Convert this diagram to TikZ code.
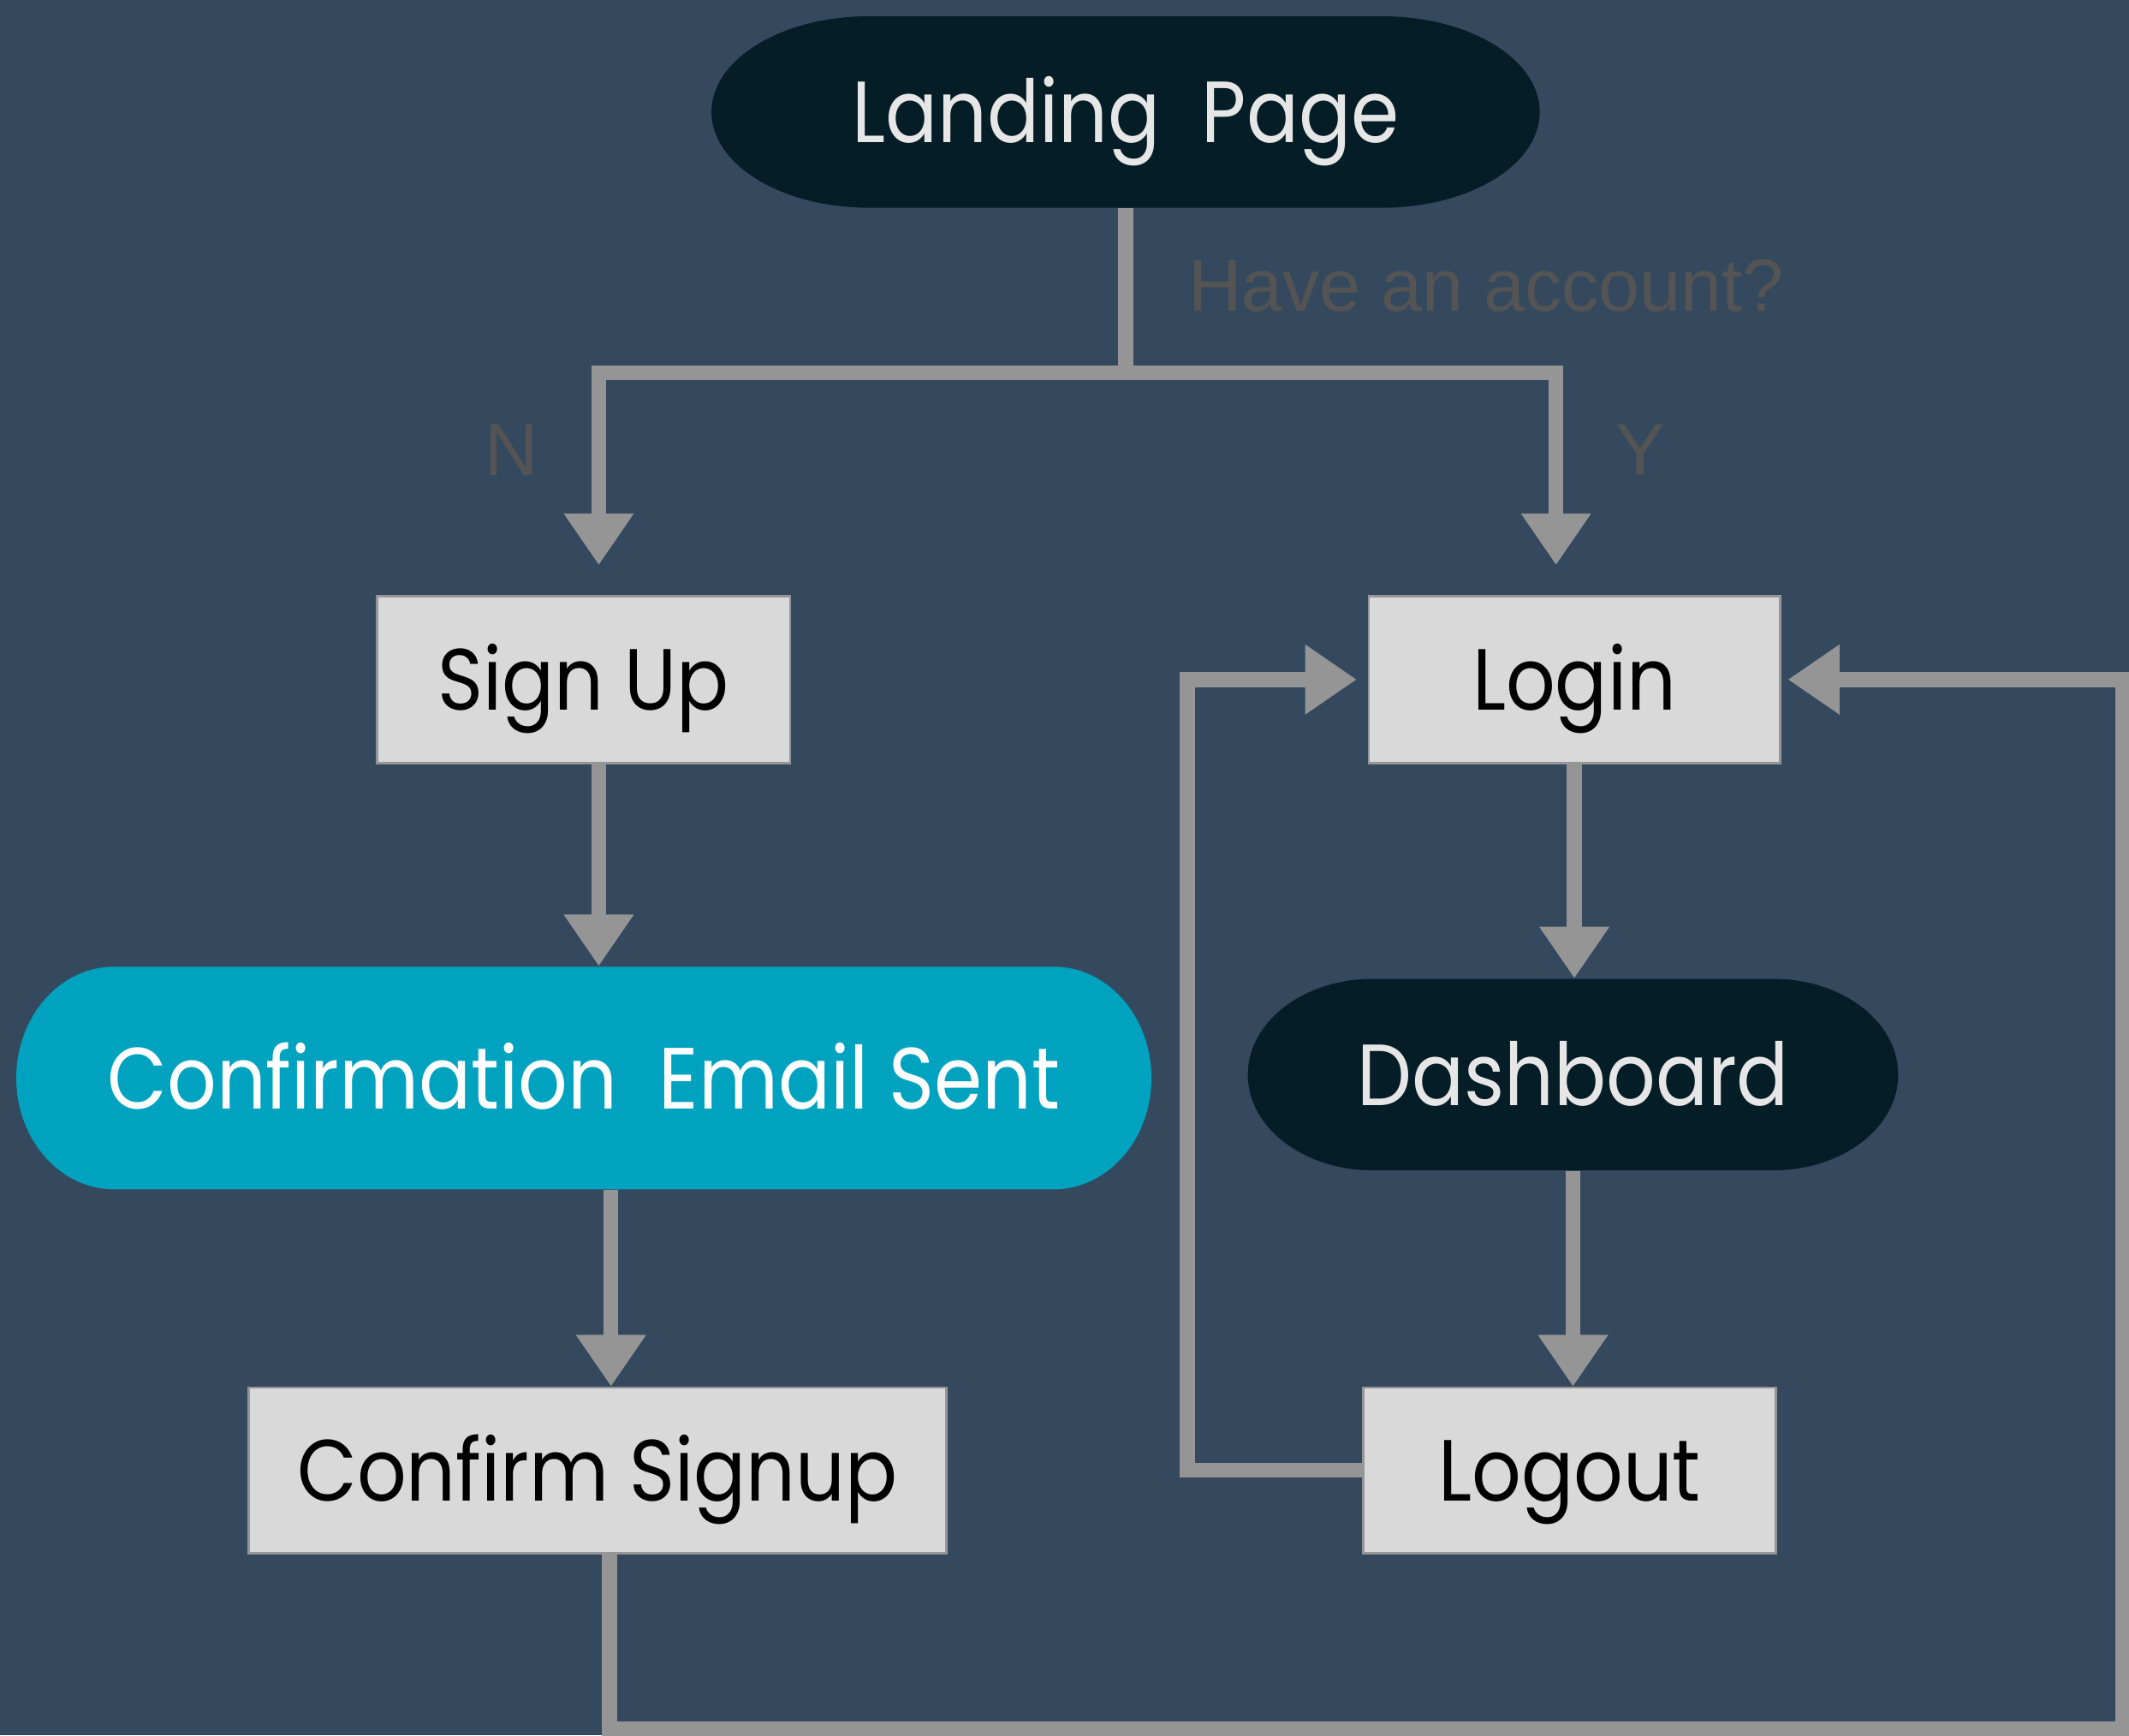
\documentclass[tikz,border=0pt]{standalone}
\usepackage{fontspec}
\setmainfont{Poppins}[FakeStretch=0.89]
\newfontfamily\notefont{Liberation Sans}
\usetikzlibrary{arrows.meta}

\begin{document}
\begin{tikzpicture}[x=1pt,y=1pt,
  flow/.style={draw=lineColor,line width=5.5pt,-{Triangle[length=19pt,width=24.5pt]}},
  stepbox/.style={rectangle,fill=boxColor,draw=edgeColor,line width=0.8pt,inner sep=0pt,text=black,
    text height=22.5pt,text depth=0pt,font=\fontsize{32}{38}\selectfont},
  pill/.style n args={3}{rectangle,inner sep=0pt,text height=22.5pt,text depth=0pt,font=\fontsize{32}{38}\selectfont,
    path picture={\fill[#1] ([xshift=#2]path picture bounding box.north west) -- ([xshift=-#2]path picture bounding box.north east)
      arc[start angle=90,end angle=-90,x radius=#2,y radius=#3] -- ([xshift=#2]path picture bounding box.south west)
      arc[start angle=270,end angle=90,x radius=#2,y radius=#3] -- cycle;}},
  note/.style={text=noteColor,inner sep=0pt,font=\notefont\fontsize{27.2}{32}\selectfont}]
\definecolor{bgColor}{RGB}{52,73,94}
\definecolor{nightColor}{RGB}{4,29,38}
\definecolor{tealColor}{RGB}{0,163,191}
\definecolor{boxColor}{RGB}{217,217,217}
\definecolor{edgeColor}{RGB}{150,150,150}
\definecolor{lineColor}{RGB}{149,149,149}
\definecolor{noteColor}{RGB}{84,84,84}
\definecolor{paleColor}{RGB}{230,230,230}
\path[use as bounding box,fill=bgColor] (0,0) rectangle (784,639);

% nodes
\node[pill={nightColor}{58pt}{35.25pt},minimum width=305pt,minimum height=70.5pt,text=paleColor] (landing) at (414.5,597.75) {Landing~ Page};
\node[stepbox,minimum width=152pt,minimum height=61.5pt] (signup) at (214.9,388.75) {Sign Up};
\node[stepbox,minimum width=151.5pt,minimum height=61.5pt] (login) at (579.75,388.75) {Login};
\node[pill={tealColor}{36pt}{41pt},minimum width=418pt,minimum height=82pt,text=white] (emailsent) at (215,242) {Confirmation~ Email Sent};
\node[pill={nightColor}{46pt}{35.25pt},minimum width=239.5pt,minimum height=70.5pt,text=paleColor] (dashboard) at (579.25,243.25) {Dashboard};
\node[stepbox,minimum width=257pt,minimum height=61pt] (confirm) at (220,97.5) {Confirm Signup};
\node[stepbox,minimum width=152pt,minimum height=61pt] (logout) at (578,97.5) {Logout};

\node[note,anchor=base west] (askq) at (437.5,524.5) {Have an account?};
\node[note,anchor=base] (nolbl) at (188.25,464) {N};
\node[note,anchor=base] (yeslbl) at (604,464) {Y};

% connectors
\coordinate (fork) at (414.5,501.75);
\coordinate (backL) at (437.25,388.75);
\coordinate (backR) at (781.75,2.25);
\draw[flow,shorten >=11pt] (landing.south) -- (fork) -| ([xshift=5.6pt]signup.north);
\draw[flow,shorten >=11pt] (landing.south) -- (fork) -| ([xshift=-6.75pt]login.north);
\draw[flow] ([xshift=5.6pt]signup.south) -- ([xshift=5.5pt]emailsent.north);
\draw[flow] ([xshift=10pt]emailsent.south) -- ([xshift=5pt]confirm.north);
\draw[flow] (login.south) -- (login.south |- dashboard.north);
\draw[flow] (dashboard.south) -- (dashboard.south |- logout.north);
\draw[flow,shorten >=4pt] (logout.west) -| (backL) -- (login.west);
\draw[flow,shorten >=2.5pt] ([xshift=4.5pt]confirm.south) |- (backR) |- (login.east);
\end{tikzpicture}
\end{document}
